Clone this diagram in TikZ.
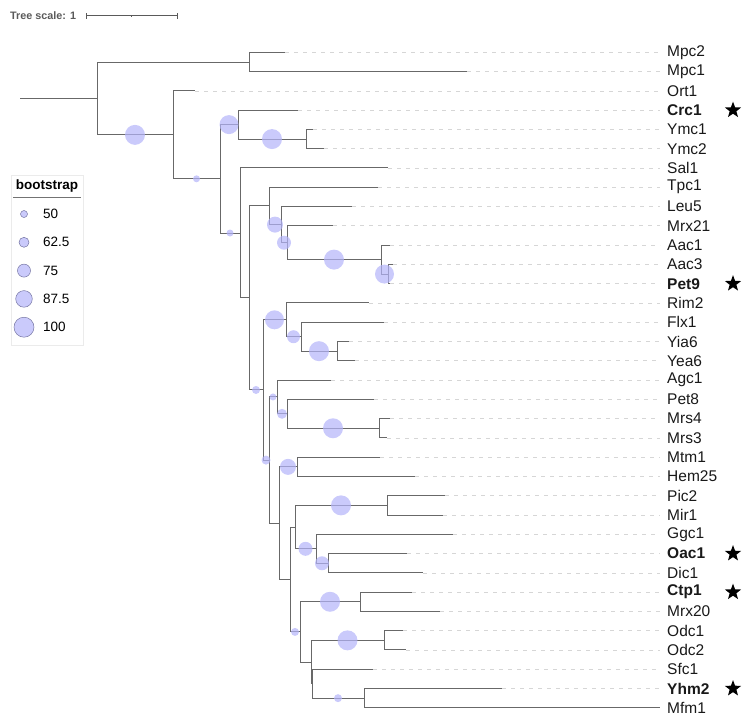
\documentclass[tikz,border=0pt]{standalone}
\usepackage{fontspec}
\setmainfont{Liberation Sans}
\usetikzlibrary{calc,shapes.geometric}
\definecolor{branchgray}{RGB}{104,104,104}
\definecolor{bootblue}{RGB}{180,180,250}
\definecolor{leadgray}{RGB}{214,214,214}
\definecolor{scalegray}{RGB}{90,90,90}

\begin{document}
\begin{tikzpicture}[x=1pt, y=-1pt,
    branch/.style={draw=branchgray, line width=1pt},
    lead/.style={draw=leadgray, line width=0.7pt, dash pattern=on 4pt off 5pt},
    boot/.style={fill=bootblue, fill opacity=0.7},
    leaf/.style={anchor=west, inner sep=0pt, text=black!90, font=\fontsize{15.5}{18}\selectfont},
    tagstar/.style={star, star points=5, star point ratio=2.4, fill=black, inner sep=0pt, minimum size=17pt},
    every node/.style={inner sep=0pt}]
    \useasboundingbox (0,0) rectangle (751,724);
    % Tree scale
    \node[anchor=west, text=scalegray, font=\fontsize{10.8}{12}\selectfont\bfseries] (scl) at (10,15.7) {Tree scale: 1};
    \coordinate (sb0) at (86,15.7);
    \coordinate (sb1) at (177,15.7);
    \draw[scalegray, line width=0.8pt] (sb0) -- (sb1);
    \draw[scalegray, line width=0.8pt] ([yshift=-3pt]sb0) -- ([yshift=3pt]sb0);
    \draw[scalegray, line width=0.8pt] ([yshift=-3pt]sb1) -- ([yshift=3pt]sb1);
    \draw[scalegray, line width=0.6pt] ($(sb0)!.5!(sb1)$) -- ++(0,1.5);
    % Leaves: label / tip of branch
    \foreach \lab/\tip [count=\i from 0] in {
      Mpc2/285, Mpc1/467, Ort1/195, \textbf{Crc1}/298, Ymc1/313, Ymc2/324,
      Sal1/388, Tpc1/378, Leu5/352, Mrx21/333, Aac1/390, Aac3/393,
      \textbf{Pet9}/390, Rim2/369, Flx1/384, Yia6/349, Yea6/355, Agc1/331,
      Pet8/374, Mrs4/390, Mrs3/387, Mtm1/380, Hem25/415, Pic2/445,
      Mir1/443, Ggc1/453, \textbf{Oac1}/407, Dic1/423, \textbf{Ctp1}/412, Mrx20/440,
      Odc1/403, Odc2/406, Sfc1/373, \textbf{Yhm2}/502, Mfm1/660} {
      \pgfmathsetmacro\yy{52.3+19.28*\i}
      \coordinate (t\i) at (\tip,\yy);
      \node[leaf] (l\i) at (667,\yy) {\lab};
      \draw[lead] (t\i) -- ([xshift=-7pt]l\i.west);
    }
    % Stars for the bold ones
    \coordinate (starcol) at (733,0);
    \foreach \i in {3,12,26,28,33} {
      \node[tagstar] (s\i) at (l\i -| starcol) {};
    }
    % Internal nodes
    \coordinate (r0) at (20,98.4);
    \coordinate (r) at (97,98.4);
    \coordinate (nMpc) at (249,62.0);
    \coordinate (nA) at (173,134.85);
    \coordinate (nB) at (220,178.8);
    \coordinate (nCrc) at (238,124.6);
    \coordinate (nYmc) at (306,139.05);
    \coordinate (nC) at (240,233.0);
    \coordinate (nD) at (249,297.95);
    \coordinate (nTpc) at (269,205.95);
    \coordinate (nLeu) at (281,224.6);
    \coordinate (nMrx) at (287,242.7);
    \coordinate (nAac) at (381,259.6);
    \coordinate (nPet) at (388,274.05);
    \coordinate (nE) at (263,389.95);
    \coordinate (nRim) at (286,319.8);
    \coordinate (nFlx) at (301,336.7);
    \coordinate (nYia) at (337,351.15);
    \coordinate (nF) at (269,460.1);
    \coordinate (nAgc) at (277,396.95);
    \coordinate (nPet8) at (287,413.8);
    \coordinate (nMrs) at (379,428.25);
    \coordinate (nG) at (279,523.2);
    \coordinate (nMtm) at (297,466.85);
    \coordinate (nH) at (290,579.5);
    \coordinate (nI) at (295,527.1);
    \coordinate (nPic) at (387,505.35);
    \coordinate (nGgc) at (316,548.8);
    \coordinate (nOac) at (328,563.25);
    \coordinate (nJ) at (300,631.9);
    \coordinate (nCtp) at (360,601.75);
    \coordinate (nK) at (311,662.0);
    \coordinate (nOdc) at (384,640.35);
    \coordinate (nL) at (312,683.7);
    \coordinate (nYhm) at (364,698.15);
    % Branches
    \draw[branch] (r0) -- (r);
    \foreach \p/\c in {r/nMpc, r/nA, nMpc/t0, nMpc/t1, nA/t2, nA/nB,
      nB/nCrc, nB/nC, nCrc/t3, nCrc/nYmc, nYmc/t4, nYmc/t5,
      nC/t6, nC/nD, nD/nTpc, nD/nE, nTpc/t7, nTpc/nLeu, nLeu/t8, nLeu/nMrx,
      nMrx/t9, nMrx/nAac, nAac/t10, nAac/nPet, nPet/t11, nPet/t12,
      nE/nRim, nE/nF, nRim/t13, nRim/nFlx, nFlx/t14, nFlx/nYia, nYia/t15, nYia/t16,
      nF/nAgc, nF/nG, nAgc/t17, nAgc/nPet8, nPet8/t18, nPet8/nMrs, nMrs/t19, nMrs/t20,
      nG/nMtm, nG/nH, nMtm/t21, nMtm/t22, nH/nI, nH/nJ,
      nI/nPic, nI/nGgc, nPic/t23, nPic/t24, nGgc/t25, nGgc/nOac, nOac/t26, nOac/t27,
      nJ/nCtp, nJ/nK, nCtp/t28, nCtp/t29, nK/nOdc, nK/nL, nOdc/t30, nOdc/t31,
      nL/t32, nL/nYhm, nYhm/t33, nYhm/t34} {
      \draw[branch] (\p) |- (\c);
    }
    % Bootstrap dots, half way along the branch
    \foreach \p/\c/\rad in {r/nA/10, nA/nB/3.5, nB/nCrc/9.5, nCrc/nYmc/10, nB/nC/3.5,
      nTpc/nLeu/8, nLeu/nMrx/7, nMrx/nAac/10, nAac/nPet/9.5, nD/nE/4,
      nE/nRim/9.5, nRim/nFlx/6.5, nFlx/nYia/10, nE/nF/4.5, nF/nAgc/3.5,
      nAgc/nPet8/5, nPet8/nMrs/10, nG/nMtm/8, nI/nPic/10, nI/nGgc/7,
      nGgc/nOac/7, nH/nJ/4, nJ/nCtp/10, nK/nOdc/10, nL/nYhm/4} {
      \fill[boot] ($(\p |- \c)!.5!(\c)$) circle (\rad pt);
    }
    % Legend
    \draw[black!8, line width=0.8pt] (11,175) rectangle (83,345);
    \node[font=\fontsize{13.5}{16}\selectfont\bfseries] (legtitle) at (47,186) {bootstrap};
    \draw[black!55, line width=0.8pt] (13,197) -- (81,197);
    \foreach \v/\rad [count=\k from 0] in {50/3.5, 62.5/5, 75/6.5, 87.5/8.3, 100/10} {
      \pgfmathsetmacro\ly{214+28.3*\k}
      \filldraw[fill=bootblue, fill opacity=0.7, draw=black!35!bootblue, line width=0.5pt] (24,\ly) circle (\rad pt);
      \node[anchor=west, font=\fontsize{13.5}{16}\selectfont] (leg\k) at (43,\ly) {\v};
    }
\end{tikzpicture}
\end{document}
